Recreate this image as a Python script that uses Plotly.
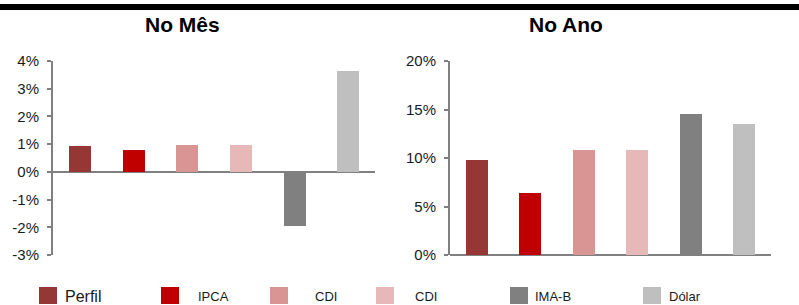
import plotly.graph_objects as go
from plotly.subplots import make_subplots

W, H = 799, 305

series_names = ["Perfil", "IPCA", "CDI", "CDI", "IMA-B", "Dólar"]
series_colors = ["#953735", "#C00000", "#D99594", "#E6B9B8", "#808080", "#BFBFBF"]
no_mes = [0.93, 0.78, 0.96, 0.96, -1.95, 3.63]
no_ano = [9.79, 6.36, 10.8, 10.8, 14.5, 13.5]
mes_ticks = [-3, -2, -1, 0, 1, 2, 3, 4]
mes_ticklabels = ["-3%", "-2%", "-1%", "0%", "1%", "2%", "3%", "4%"]
ano_ticks = [0, 5, 10, 15, 20]
ano_ticklabels = ["0%", "5%", "10%", "15%", "20%"]

FONT = "Liberation Sans, Arial, sans-serif"
GRAY = "#808080"

fig = make_subplots(rows=1, cols=2)
idx = list(range(len(series_names)))
fig.add_trace(go.Bar(x=idx, y=no_mes, marker=dict(color=series_colors, line_width=0),
                     width=0.41, showlegend=False, hoverinfo="skip"), row=1, col=1)
fig.add_trace(go.Bar(x=idx, y=no_ano, marker=dict(color=series_colors, line_width=0),
                     width=0.41, showlegend=False, hoverinfo="skip"), row=1, col=2)

def px_x(p):
    return p / W

def px_y(p):
    return 1 - p / H

ydom = [px_y(255), px_y(61)]
xaxis_common = dict(range=[-0.5, 5.5], showticklabels=False, ticks="", showgrid=False,
                    zeroline=False, showline=False, fixedrange=True)
yaxis_common = dict(showgrid=False, zeroline=True, zerolinecolor=GRAY, zerolinewidth=2,
                    showline=True, linecolor=GRAY, linewidth=2, ticks="outside",
                    ticklen=4, tickwidth=2, tickcolor=GRAY, tickmode="array",
                    ticklabelstandoff=5,
                    tickfont=dict(family=FONT, size=15, color="#1a1a1a"), fixedrange=True)

fig.update_layout(
    width=W, height=H,
    margin=dict(l=0, r=0, t=0, b=0, autoexpand=False),
    paper_bgcolor="white", plot_bgcolor="white",
    bargap=0,
    xaxis=dict(domain=[px_x(53), px_x(375)], **xaxis_common),
    xaxis2=dict(domain=[px_x(450), px_x(771)], **xaxis_common),
    yaxis=dict(domain=ydom, range=[-3, 4], tickvals=mes_ticks, ticktext=mes_ticklabels, **yaxis_common),
    yaxis2=dict(domain=ydom, range=[0, 20], tickvals=ano_ticks, ticktext=ano_ticklabels, **yaxis_common),
    font=dict(family=FONT),
)

# top black band
fig.add_shape(type="rect", xref="paper", yref="paper", x0=0, x1=1,
              y0=px_y(10), y1=px_y(4), fillcolor="black", line_width=0, layer="above")

# titles
for txt, cx in [("No Mês", 182), ("No Ano", 566)]:
    fig.add_annotation(text=f"<b>{txt}</b>", xref="paper", yref="paper",
                       x=px_x(cx), y=px_y(25), xanchor="center", yanchor="middle",
                       showarrow=False, font=dict(family=FONT, size=21, color="black"))

# legend
sq_x = [39, 161, 270, 376, 510, 643]
txt_x = [63, 196, 313, 413, 533, 667]
txt_size = [16, 13, 13, 13, 13, 13]
for name, col, sx, tx, fs in zip(series_names, series_colors, sq_x, txt_x, txt_size):
    fig.add_shape(type="rect", xref="paper", yref="paper",
                  x0=px_x(sx), x1=px_x(sx + 18), y0=px_y(304), y1=px_y(287),
                  fillcolor=col, line_width=0)
    fig.add_annotation(text=name, xref="paper", yref="paper", x=px_x(tx), y=px_y(296),
                       xanchor="left", yanchor="middle", showarrow=False,
                       font=dict(family=FONT, size=fs, color="#1a1a1a"))

fig.write_html("out.html", config={"displayModeBar": False},
               post_script="document.body.style.margin='0';document.body.style.padding='0';")
